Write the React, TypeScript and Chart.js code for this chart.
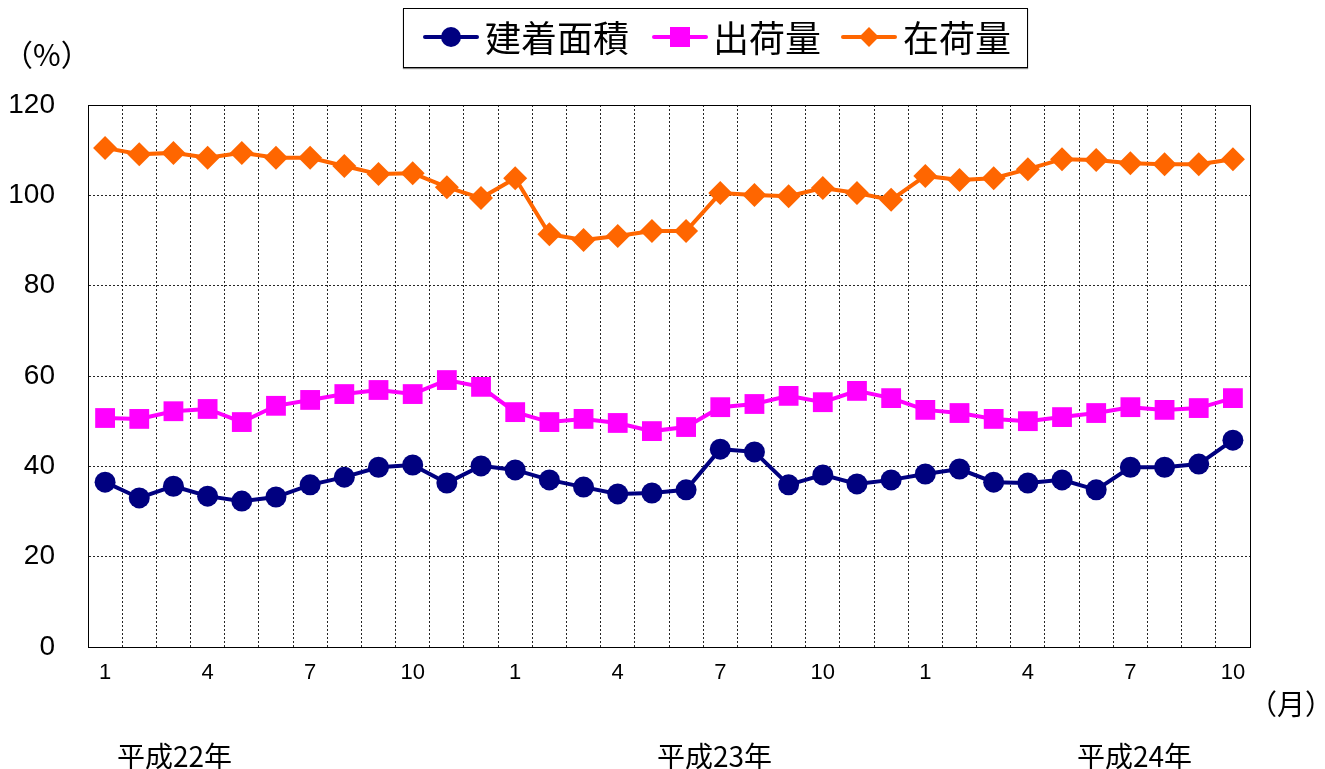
import React, { useEffect, useRef } from "react";
import { Chart, registerables } from "chart.js";

Chart.register(...registerables);

const months: number[] = [
  1, 2, 3, 4, 5, 6, 7, 8, 9, 10, 11, 12,
  1, 2, 3, 4, 5, 6, 7, 8, 9, 10, 11, 12,
  1, 2, 3, 4, 5, 6, 7, 8, 9, 10,
];
const shownMonths: number[] = [1, 4, 7, 10];

const seriesNames: string[] = ["建着面積", "出荷量", "在荷量"];

const kenchakuMenseki: number[] = [
  36.5, 33.0, 35.6, 33.4, 32.3, 33.2, 35.9, 37.6, 39.8, 40.3, 36.3, 40.1,
  39.2, 37.0, 35.4, 33.9, 34.1, 34.8, 43.8, 43.2, 35.9, 38.1, 36.1, 37.0,
  38.3, 39.4, 36.5, 36.3, 37.0, 34.8, 39.8, 39.8, 40.5, 45.8,
];
const shukkaryo: number[] = [
  50.7, 50.5, 52.2, 52.7, 49.8, 53.4, 54.7, 56.0, 56.9, 56.0, 59.1, 57.6,
  52.0, 49.8, 50.5, 49.6, 47.8, 48.7, 53.1, 53.8, 55.6, 54.2, 56.7, 55.1,
  52.5, 51.8, 50.5, 50.0, 50.9, 51.8, 53.1, 52.5, 52.9, 55.1,
];
const zaikaryo: number[] = [
  110.5, 109.1, 109.4, 108.3, 109.4, 108.3, 108.3, 106.5, 104.7, 104.9, 101.8, 99.4,
  103.8, 91.4, 90.1, 91.0, 92.1, 92.1, 100.5, 100.1, 99.8, 101.6, 100.5, 99.0,
  104.3, 103.4, 103.8, 105.8, 108.0, 107.8, 107.1, 106.9, 106.9, 108.0,
];

const yearLabels: string[] = ["平成22年", "平成23年", "平成24年"];
const yMin = 0;
const yMax = 120;
const yStep = 20;

const colors = ["#000080", "#FF00FF", "#FF6600"];
const shapes = ["circle", "rect", "rectRot"];
const radii = [10.5, 14, 12];

const cjk = '"Noto Sans CJK JP", "Noto Sans", sans-serif';
const latin = '"Liberation Sans", Arial, sans-serif';

const borderPlugin = {
  id: "plotBorder",
  afterDraw(chart: any) {
    const { ctx, chartArea } = chart;
    ctx.save();
    ctx.strokeStyle = "#000";
    ctx.lineWidth = 1;
    ctx.setLineDash([]);
    ctx.strokeRect(
      Math.round(chartArea.left) + 0.5,
      Math.round(chartArea.top) + 0.5,
      Math.round(chartArea.right - chartArea.left),
      Math.round(chartArea.bottom - chartArea.top)
    );
    ctx.restore();
  },
};

function LegendMarker({ idx }: { idx: number }) {
  const c = colors[idx];
  let marker: React.ReactNode;
  if (idx === 0) {
    marker = (
      <div style={{ position: "absolute", left: 18, top: -8, width: 20, height: 20, borderRadius: 10, background: c }} />
    );
  } else if (idx === 1) {
    marker = (
      <div style={{ position: "absolute", left: 18, top: -8, width: 20, height: 20, background: c }} />
    );
  } else {
    marker = (
      <div style={{ position: "absolute", left: 21, top: -5, width: 14, height: 14, background: c, transform: "rotate(45deg)" }} />
    );
  }
  return (
    <div style={{ position: "relative", width: 56, height: 4 }}>
      <div style={{ position: "absolute", left: 0, top: 0, width: 56, height: 4, background: c, borderRadius: 2 }} />
      {marker}
    </div>
  );
}

export default function App() {
  const canvasRef = useRef<HTMLCanvasElement | null>(null);

  useEffect(() => {
    if (!canvasRef.current) return;
    const data = [kenchakuMenseki, shukkaryo, zaikaryo];
    const chart = new Chart(canvasRef.current, {
      type: "line",
      data: {
        labels: months.map((m) => String(m)),
        datasets: data.map((d, i) => ({
          label: seriesNames[i],
          data: d,
          borderColor: colors[i],
          backgroundColor: colors[i],
          borderWidth: 4,
          pointStyle: shapes[i] as any,
          pointRadius: radii[i],
          pointBorderWidth: 0,
          pointBackgroundColor: colors[i],
          pointBorderColor: colors[i],
          tension: 0,
          fill: false,
        })),
      },
      options: {
        responsive: false,
        animation: false,
        layout: { padding: { top: 105, right: 75, left: 0, bottom: 0 } },
        plugins: {
          legend: { display: false },
          title: { display: false },
          tooltip: { enabled: false },
        },
        scales: {
          x: {
            type: "category",
            offset: true,
            grid: {
              offset: true,
              display: true,
              color: "rgba(0,0,0,0.85)",
              lineWidth: 1,
              drawTicks: false,
            },
            border: { display: true, color: "#000", dash: [2, 2] },
            ticks: {
              autoSkip: false,
              maxRotation: 0,
              padding: 13,
              color: "#000",
              font: { family: latin, size: 22 },
              callback: (_v: any, i: number) =>
                shownMonths.includes(months[i]) ? String(months[i]) : "",
            },
            afterFit: (scale: any) => {
              scale.height = 122;
            },
          },
          y: {
            min: yMin,
            max: yMax,
            grid: {
              color: "rgba(0,0,0,0.85)",
              lineWidth: 1,
              drawTicks: false,
            },
            border: { display: true, color: "#000", dash: [2, 2] },
            ticks: {
              stepSize: yStep,
              padding: 33,
              color: "#000",
              font: { family: latin, size: 28 },
            },
            afterFit: (scale: any) => {
              scale.width = 88;
            },
          },
        },
      },
      plugins: [borderPlugin],
    } as any);
    (chart.options.scales as any).x.grid.borderDash = [2, 2];
    (chart.options.scales as any).y.grid.borderDash = [2, 2];
    chart.update();
    return () => chart.destroy();
  }, []);

  const legendItems = [
    { left: 423, textLeft: 485 },
    { left: 652, textLeft: 713 },
    { left: 841, textLeft: 903 },
  ];

  return (
    <div style={{ position: "absolute", left: 0, top: 0, width: 1325, height: 769, background: "#fff", overflow: "hidden" }}>
      <canvas ref={canvasRef} width={1325} height={769} style={{ position: "absolute", left: 0, top: 0, width: 1325, height: 769 }} />
      <div
        style={{
          position: "absolute",
          left: 403,
          top: 8,
          width: 623,
          height: 58,
          border: "1px solid #000",
          boxShadow: "0 1px 1px #888",
          background: "#fff",
        }}
      />
      {legendItems.map((it, i) => (
        <React.Fragment key={i}>
          <div style={{ position: "absolute", left: it.left, top: 35 }}>
            <LegendMarker idx={i} />
          </div>
          <div
            style={{
              position: "absolute",
              left: it.textLeft,
              top: 18,
              fontFamily: cjk,
              fontSize: 36,
              lineHeight: 1,
              color: "#000",
              whiteSpace: "nowrap",
            }}
          >
            {seriesNames[i]}
          </div>
        </React.Fragment>
      ))}
      <div style={{ position: "absolute", left: 3, top: 38, fontFamily: cjk, fontSize: 30, lineHeight: 1, whiteSpace: "nowrap" }}>
        （%）
      </div>
      <div style={{ position: "absolute", left: 1249, top: 689, fontFamily: cjk, fontSize: 28, lineHeight: 1, whiteSpace: "nowrap" }}>
        （月）
      </div>
      {yearLabels.map((t, i) => (
        <div
          key={t}
          style={{
            position: "absolute",
            left: [117, 657, 1077][i],
            top: 741,
            fontFamily: cjk,
            fontSize: 28,
            lineHeight: 1,
            whiteSpace: "nowrap",
          }}
        >
          {t}
        </div>
      ))}
    </div>
  );
}
